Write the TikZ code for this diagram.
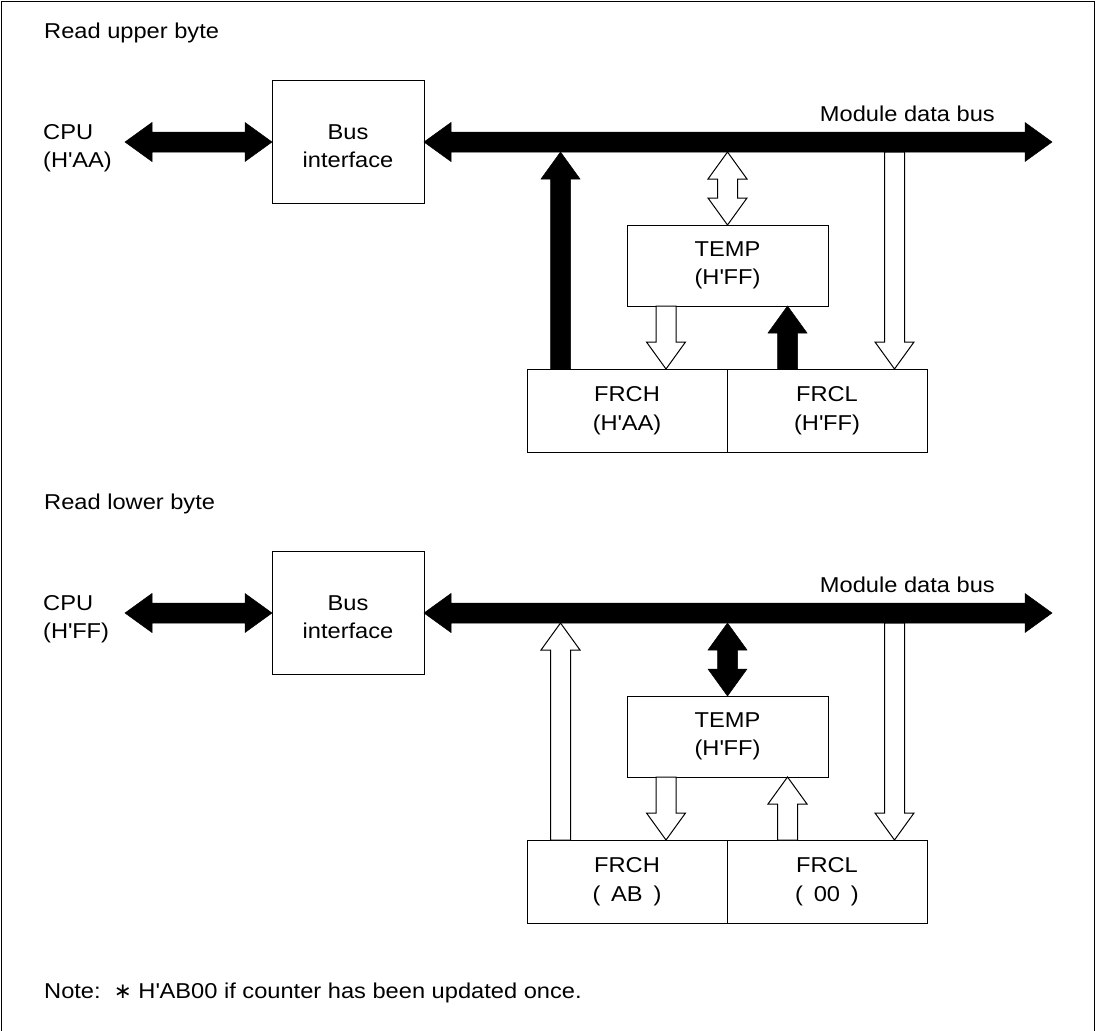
\documentclass[tikz,border=0pt]{standalone}
\usepackage{fontspec}
\setmainfont{Liberation Sans}[FakeStretch=1.1]
\newfontfamily\symfont{DejaVu Sans}
\usetikzlibrary{calc,positioning}

\newcommand{\figfont}{\fontsize{21.5}{28.5}\selectfont}
\newcommand{\qt}{\textquotesingle}

% sizes of the block arrows
\newcommand{\shaftw}{10pt}
\newcommand{\headw}{19.5pt}
\newcommand{\headl}{27pt}

% block arrow from #2 to #3 (tip), style #1
\newcommand{\blkarrow}[3]{%
  \coordinate (hb) at ($(#3)!\headl!(#2)$);
  \path[#1] ($(#2)!\shaftw!90:(#3)$) -- ($(hb)!\shaftw!90:(#3)$)
    -- ($(hb)!\headw!90:(#3)$) -- (#3) -- ($(hb)!\headw!-90:(#3)$)
    -- ($(hb)!\shaftw!-90:(#3)$) -- ($(#2)!\shaftw!-90:(#3)$) -- cycle;}

% block arrow with a head at both ends
\newcommand{\blkdarrow}[3]{%
  \coordinate (ha) at ($(#2)!\headl!(#3)$);
  \coordinate (hb) at ($(#3)!\headl!(#2)$);
  \path[#1] (#2) -- ($(ha)!\headw!90:(#3)$) -- ($(ha)!\shaftw!90:(#3)$)
    -- ($(hb)!\shaftw!90:(#3)$) -- ($(hb)!\headw!90:(#3)$) -- (#3)
    -- ($(hb)!\headw!-90:(#3)$) -- ($(hb)!\shaftw!-90:(#3)$)
    -- ($(ha)!\shaftw!-90:(#3)$) -- ($(ha)!\headw!-90:(#3)$) -- cycle;}

\begin{document}
\begin{tikzpicture}[x=1pt,y=-1pt,line join=miter,
    box/.style={draw,line width=1pt,inner sep=0pt,outer sep=0pt,align=center,font=\figfont},
    reg/.style={box,minimum width=200pt,minimum height=83pt},
    txt/.style={inner sep=0pt,align=left,font=\figfont},
    fullarr/.style={fill=black,draw=black,line width=.5pt},
    openarr/.style={fill=white,draw=black,line width=1pt}]

  \useasboundingbox (0,0) rectangle (1096,1031);
  \draw[line width=1pt] (1,1031) -- (1,1) -- (1094,1) -- (1094,1031);

  % read upper byte
  \node[txt,anchor=base west] (head1) at (44,38) {Read upper byte};
  \node[txt,anchor=north west] (cpu1) at (43,124) {CPU\\(H\qt AA)};
  \node[box,minimum width=152pt,minimum height=123pt] (bif1) at (348,142)
    {\rule{0pt}{23pt}Bus\\interface};
  \node[txt,anchor=base east] (mdb1) at (995,121) {Module data bus};
  \node[box,minimum width=201pt,minimum height=81pt] (temp1) at (727.5,265.5) {TEMP\\(H\qt FF)};
  \node[reg] (frch1) at (627,410.5) {FRCH\\(H\qt AA)};
  \node[reg] (frcl1) [right=0pt of frch1] {FRCL\\(H\qt FF)};

  \coordinate (cpuend1) at (125,142);
  \coordinate (busend1) at (1052,142);
  \coordinate (up1) at (560.5,152);
  \coordinate (tb1) at (727.5,152);
  \coordinate (dn1) at (894.5,152);
  \coordinate (th1) at (666,0);
  \coordinate (lt1) at (787.5,0);

  \blkdarrow{fullarr}{cpuend1}{bif1.west}
  \blkdarrow{fullarr}{bif1.east}{busend1}
  \blkarrow{fullarr}{frch1.north -| up1}{up1}
  \blkdarrow{openarr}{tb1}{temp1.north}
  \blkarrow{openarr}{temp1.south -| th1}{frch1.north -| th1}
  \blkarrow{fullarr}{frcl1.north -| lt1}{temp1.south -| lt1}
  \blkarrow{openarr}{dn1}{frcl1.north -| dn1}

  % read lower byte
  \node[txt,anchor=base west] (head2) at (44,509) {Read lower byte};
  \node[txt,anchor=north west] (cpu2) at (43,595) {CPU\\(H\qt FF)};
  \node[box,minimum width=152pt,minimum height=123pt] (bif2) at (348,613)
    {\rule{0pt}{23pt}Bus\\interface};
  \node[txt,anchor=base east] (mdb2) at (995,592) {Module data bus};
  \node[box,minimum width=201pt,minimum height=81pt] (temp2) at (727.5,736.5) {TEMP\\(H\qt FF)};
  \node[reg] (frch2) at (627,881.5) {FRCH\\(\hspace{.5em}AB\hspace{.5em})};
  \node[reg] (frcl2) [right=0pt of frch2] {FRCL\\(\hspace{.5em}00\hspace{.5em})};

  \coordinate (cpuend2) at (125,613);
  \coordinate (busend2) at (1052,613);
  \coordinate (up2) at (560.5,623);
  \coordinate (tb2) at (727.5,623);
  \coordinate (dn2) at (894.5,623);
  \coordinate (th2) at (666,0);
  \coordinate (lt2) at (787.5,0);

  \blkdarrow{fullarr}{cpuend2}{bif2.west}
  \blkdarrow{fullarr}{bif2.east}{busend2}
  \blkarrow{openarr}{frch2.north -| up2}{up2}
  \blkdarrow{fullarr}{tb2}{temp2.north}
  \blkarrow{openarr}{temp2.south -| th2}{frch2.north -| th2}
  \blkarrow{openarr}{frcl2.north -| lt2}{temp2.south -| lt2}
  \blkarrow{openarr}{dn2}{frcl2.north -| dn2}

  \node[txt,anchor=base west] (note) at (44,998)
    {Note:\ \ {\symfont ∗} H\qt AB00 if counter has been updated once.};
\end{tikzpicture}
\end{document}
